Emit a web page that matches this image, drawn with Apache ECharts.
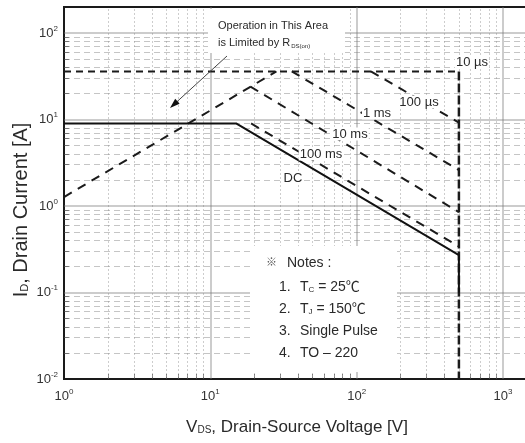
<!DOCTYPE html>
<html>
<head>
<meta charset="utf-8">
<script src="https://cdn.jsdelivr.net/npm/echarts@6/dist/echarts.min.js"></script>
<style>
  html, body { margin: 0; padding: 0; background: #fff; }
  #chart { width: 525px; height: 443px; }
</style>
</head>
<body>
<div id="chart"></div>
<script>
// Maximum safe operating area, log-log: V_DS [V] vs I_D [A]
const xRange = [1, 1483];
const yRange = [0.01, 199.8];
const xDecades = [1, 10, 100, 1000];
const yDecades = [0.01, 0.1, 1, 10, 100];
const minorSteps = [2, 3, 4, 5, 6, 7, 8, 9];

// limit lines
const rdsOnLimit = [[1, 1.27], [28.3, 36]];
const pulse10us = [[1, 36], [500, 36], [500, 0.01]];
const pulse100us = [[125, 36], [500, 9.2]];
const pulse1ms = [[36, 36], [500, 2.6]];
const pulse10ms = [[18.8, 24], [500, 0.85]];
const pulse100ms = [[19, 9], [500, 0.34]];
const dcLimit = [[1, 9], [15, 9], [500, 0.27], [500, 0.1]];

// curve captions
const curveLabels = [
  { text: '10 \u00b5s', x: 472, y: 62 },
  { text: '100 \u00b5s', x: 419, y: 102 },
  { text: '1 ms', x: 377, y: 113 },
  { text: '10 ms', x: 350, y: 134 },
  { text: '100 ms', x: 321, y: 154 },
  { text: 'DC', x: 293, y: 178 }
];

const FONT = '"Liberation Sans", Arial, "Noto Sans CJK SC", sans-serif';

function minorValues(decades, limit) {
  const out = [];
  decades.forEach(d => minorSteps.forEach(k => {
    const v = d * k;
    if (v < limit) out.push(v);
  }));
  return out;
}
const xMinor = minorValues(xDecades, xRange[1]);
const yMinor = minorValues(yDecades, yRange[1]);

const vLines = vals => vals.map(v => ({ coords: [[v, yRange[0]], [v, yRange[1]]] }));
const hLines = vals => vals.map(v => ({ coords: [[xRange[0], v], [xRange[1], v]] }));

function gridSeries(data, style) {
  return {
    type: 'lines', coordinateSystem: 'cartesian2d', polyline: false,
    silent: true, z: 1, data: data, lineStyle: style, symbol: 'none'
  };
}

function curve(data, style) {
  return {
    type: 'line', data: data, symbol: 'none', silent: true, z: 5,
    lineStyle: Object.assign({ color: '#1b1b1b', width: 2 }, style),
    animation: false
  };
}

function isDecade(v) {
  const e = Math.log10(v);
  return Math.abs(e - Math.round(e)) < 1e-6;
}
function powLabel(v) {
  if (!isDecade(v)) return '';
  return '{b|10}{e|' + Math.round(Math.log10(v)) + '}';
}
const tickRich = {
  b: { fontSize: 13, fontFamily: FONT, color: '#333' },
  e: { fontSize: 8, fontFamily: FONT, color: '#333', padding: [0, 0, 9, 0] }
};

const chart = echarts.init(document.getElementById('chart'), null, { renderer: 'canvas' });

const textStyle = (extra) => Object.assign({ fontFamily: FONT, fill: '#2a2a2a' }, extra);

const graphics = [
  // white panels behind the annotations
  { type: 'rect', shape: { x: 208, y: 9, width: 137, height: 44 }, style: { fill: '#fff' }, z: 2, silent: true },
  { type: 'rect', shape: { x: 250, y: 246, width: 147, height: 126 }, style: { fill: '#fff' }, z: 2, silent: true },
  // arrow pointing into the R_DS(on) limited region
  { type: 'line', shape: { x1: 227, y1: 56, x2: 175, y2: 103.5 }, style: { stroke: '#444', lineWidth: 1 }, z: 6, silent: true },
  { type: 'polygon', shape: { points: [[170, 108], [179.6, 103.8], [175.2, 98.8]] }, style: { fill: '#111' }, z: 6, silent: true },
  {
    type: 'text', x: 218, y: 26, z: 7, silent: true,
    style: textStyle({ text: 'Operation in This Area', fontSize: 11, verticalAlign: 'middle' })
  },
  {
    type: 'text', x: 218, y: 43, z: 7, silent: true,
    style: textStyle({
      text: '{a|is Limited by R}{s|DS(on)}', verticalAlign: 'middle',
      rich: {
        a: { fontSize: 11, fontFamily: FONT, color: '#2a2a2a' },
        s: { fontSize: 6, fontFamily: FONT, color: '#2a2a2a', padding: [7, 0, 0, 1] }
      }
    })
  },
  // notes
  { type: 'text', x: 266, y: 263, z: 7, silent: true, style: textStyle({ text: '\u203b', fontSize: 11, verticalAlign: 'middle', fill: '#555' }) },
  { type: 'text', x: 287, y: 263, z: 7, silent: true, style: textStyle({ text: 'Notes :', fontSize: 14, verticalAlign: 'middle' }) },
  { type: 'text', x: 279, y: 287, z: 7, silent: true, style: textStyle({ text: '1.', fontSize: 14, verticalAlign: 'middle' }) },
  { type: 'text', x: 279, y: 309, z: 7, silent: true, style: textStyle({ text: '2.', fontSize: 14, verticalAlign: 'middle' }) },
  { type: 'text', x: 279, y: 331, z: 7, silent: true, style: textStyle({ text: '3.', fontSize: 14, verticalAlign: 'middle' }) },
  { type: 'text', x: 279, y: 353, z: 7, silent: true, style: textStyle({ text: '4.', fontSize: 14, verticalAlign: 'middle' }) },
  {
    type: 'text', x: 300, y: 287, z: 7, silent: true,
    style: textStyle({
      text: '{a|T}{s|C}{a| = 25\u2103}', verticalAlign: 'middle',
      rich: {
        a: { fontSize: 14, fontFamily: FONT, color: '#2a2a2a' },
        s: { fontSize: 8, fontFamily: FONT, color: '#2a2a2a', padding: [5, 0, 0, 0] }
      }
    })
  },
  {
    type: 'text', x: 300, y: 309, z: 7, silent: true,
    style: textStyle({
      text: '{a|T}{s|J}{a| = 150\u2103}', verticalAlign: 'middle',
      rich: {
        a: { fontSize: 14, fontFamily: FONT, color: '#2a2a2a' },
        s: { fontSize: 8, fontFamily: FONT, color: '#2a2a2a', padding: [5, 0, 0, 0] }
      }
    })
  },
  { type: 'text', x: 300, y: 331, z: 7, silent: true, style: textStyle({ text: 'Single Pulse', fontSize: 14, verticalAlign: 'middle' }) },
  { type: 'text', x: 300, y: 353, z: 7, silent: true, style: textStyle({ text: 'TO \u2013 220', fontSize: 14, verticalAlign: 'middle' }) },
  // axis titles
  {
    type: 'text', x: 21, y: 210, rotation: Math.PI / 2, z: 7, silent: true,
    style: textStyle({
      text: '{a|I}{s|D}{a|, Drain Current [A]}', align: 'center', verticalAlign: 'middle',
      rich: {
        a: { fontSize: 20, fontFamily: FONT, color: '#2a2a2a' },
        s: { fontSize: 11, fontFamily: FONT, color: '#2a2a2a', padding: [8, 0, 0, 0] }
      }
    })
  },
  {
    type: 'text', x: 297, y: 427, z: 7, silent: true,
    style: textStyle({
      text: '{a|V}{s|DS}{a|, Drain-Source Voltage [V]}', align: 'center', verticalAlign: 'middle',
      rich: {
        a: { fontSize: 17, fontFamily: FONT, color: '#2a2a2a' },
        s: { fontSize: 10, fontFamily: FONT, color: '#2a2a2a', padding: [7, 0, 0, 0] }
      }
    })
  }
].concat(curveLabels.map(l => ({
  type: 'text', x: l.x, y: l.y, z: 7, silent: true,
  style: textStyle({
    text: l.text, fontSize: 13, align: 'center', verticalAlign: 'middle',
    backgroundColor: '#fff', padding: [0, 1]
  })
})));

chart.setOption({
  animation: false,
  backgroundColor: '#fff',
  grid: {
    left: 64, width: 464, top: 7, bottom: 64,
    containLabel: false, outerBoundsMode: 'none',
    show: true, borderColor: '#1a1a1a', borderWidth: 2, backgroundColor: '#fff'
  },
  xAxis: {
    type: 'log', logBase: 10, min: xRange[0], max: xRange[1], interval: 1,
    axisLine: { show: false }, axisTick: { show: false }, splitLine: { show: false },
    axisLabel: { formatter: powLabel, rich: tickRich, margin: 9, color: '#333' }
  },
  yAxis: {
    type: 'log', logBase: 10, min: yRange[0], max: yRange[1], interval: 1,
    axisLine: { show: false }, axisTick: { show: false }, splitLine: { show: false },
    axisLabel: { formatter: powLabel, rich: tickRich, margin: 6, color: '#333' }
  },
  graphic: graphics,
  series: [
    gridSeries(vLines(xMinor), { color: '#9c9c9c', width: 1, type: [2, 2] }),
    gridSeries(hLines(yMinor), { color: '#8c8c8c', width: 1, type: [6, 4] }),
    gridSeries(vLines(xDecades.slice(1)), { color: '#7a7a7a', width: 1.5 }),
    gridSeries(hLines(yDecades.slice(1)), { color: '#7a7a7a', width: 1.5 }),
    // inner ticks along the bottom and left frame
    gridSeries(xMinor.map(v => ({ coords: [[v, yRange[0]], [v, yRange[0] * 1.14]] })), { color: '#222', width: 1 }),
    gridSeries(yMinor.map(v => ({ coords: [[xRange[0], v], [xRange[0] * 1.08, v]] })), { color: '#222', width: 1 }),

    curve(rdsOnLimit, { type: [9, 7] }),
    curve(pulse10us.slice(0, 2), { type: [7, 5] }),
    curve(pulse10us.slice(1), { type: [9, 3], width: 2.5 }),
    curve(pulse100us, { type: [9, 7] }),
    curve(pulse1ms, { type: [9, 7] }),
    curve(pulse10ms, { type: [9, 7] }),
    curve(pulse100ms, { type: [9, 7] }),
    curve(dcLimit, { type: 'solid', color: '#111' })
  ]
});
</script>
</body>
</html>
